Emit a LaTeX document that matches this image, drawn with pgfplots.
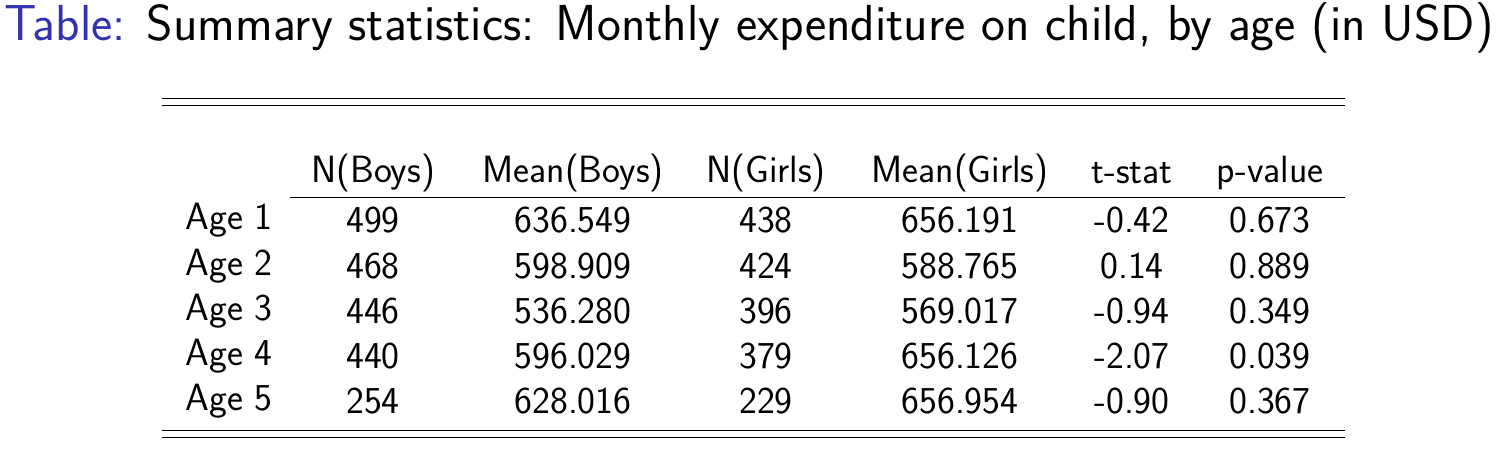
\documentclass[border=0pt]{standalone}
\usepackage{pgfplots}
\usepackage{pgfplotstable}
\pgfplotsset{compat=1.18}
\definecolor{beamerblue}{RGB}{51,51,178}
\pgfplotstableread{
x y label
185 220 {Age 1}
185 266 {Age 2}
185 311 {Age 3}
185 356 {Age 4}
185 401 {Age 5}
}\rowlab
\pgfplotstableread{
x y label
373 173 {N(Boys)}
573 173 {Mean(Boys)}
766 173 {N(Girls)}
960 173 {Mean(Girls)}
1132 173 {t-stat}
1270 173 {p-value}
373 220 499
573 220 636.549
766 220 438
960 220 656.191
1132 220 -0.42
1270 220 0.673
373 266 468
573 266 598.909
766 266 424
960 266 588.765
1132 266 0.14
1270 266 0.889
373 311 446
573 311 536.280
766 311 396
960 311 569.017
1132 311 -0.94
1270 311 0.349
373 356 440
573 356 596.029
766 356 379
960 356 656.126
1132 356 -2.07
1270 356 0.039
373 401 254
573 401 628.016
766 401 229
960 401 656.954
1132 401 -0.90
1270 401 0.367
}\cells
\begin{document}
\begin{tikzpicture}
\begin{axis}[scale only axis, width=751.5pt, height=225pt,
  xmin=0, xmax=1503, ymin=0, ymax=450, y dir=reverse,
  axis lines=none, clip=false,
  nodes near coords, point meta=explicit symbolic,
  every node near coord/.append style={font=\sffamily\fontsize{19}{22}\selectfont, text=black, inner sep=0pt}]
\path (axis cs:0,0) rectangle (axis cs:1503,450);
\addplot[draw=none, mark=none, nodes near coords style={anchor=center}] table[x=x,y=y,meta=label]{\cells};
\addplot[draw=none, mark=none, nodes near coords style={anchor=west}] table[x=x,y=y,meta=label]{\rowlab};
\draw[black, line width=0.5pt] (axis cs:162,98) -- (axis cs:1345,98);
\draw[black, line width=0.5pt] (axis cs:162,105) -- (axis cs:1345,105);
\draw[black, line width=0.5pt] (axis cs:290,197) -- (axis cs:1345,197);
\draw[black, line width=0.5pt] (axis cs:162,430) -- (axis cs:1345,430);
\draw[black, line width=0.5pt] (axis cs:162,437) -- (axis cs:1345,437);
\node[anchor=west, inner sep=0pt, font=\sffamily\fontsize{25.3}{28}\selectfont] at (axis cs:4,28) {\textcolor{beamerblue}{Table:} Summary statistics: Monthly expenditure on child, by age (in USD)};
\end{axis}
\end{tikzpicture}
\end{document}
